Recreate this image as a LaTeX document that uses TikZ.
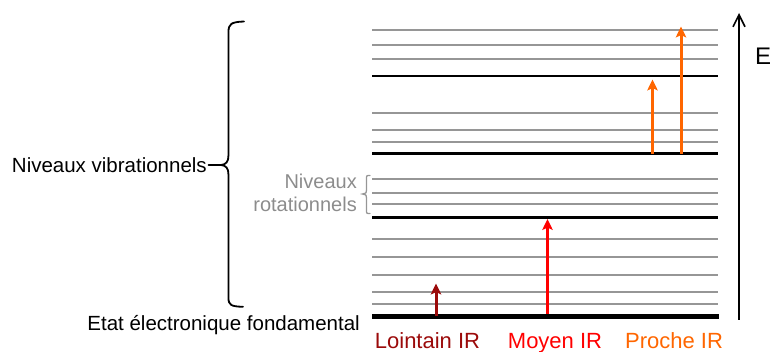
\documentclass[tikz,border=0pt]{standalone}
\usepackage{fontspec}
\setmainfont{Liberation Sans}
\usetikzlibrary{arrows.meta}
\definecolor{lvgray}{RGB}{150,150,150}
\definecolor{txtgray}{RGB}{140,140,140}
\definecolor{farir}{RGB}{155,10,10}
\definecolor{midir}{RGB}{255,0,0}
\definecolor{nearir}{RGB}{255,102,0}
\begin{document}
\begin{tikzpicture}[x=1pt,y=-1pt,
  graylevel/.style={draw=lvgray, line width=2pt},
  mainlevel/.style={draw=black, line width=2.8pt},
  groundlevel/.style={draw=black, line width=4.4pt},
  transition/.style={line width=3pt, -{Stealth[length=11pt,width=10.5pt,inset=2.5pt]}},
  lbl/.style={font=\fontsize{20.5}{24}\selectfont, inner sep=0pt},
  graylbl/.style={font=\fontsize{20}{23}\selectfont, inner sep=0pt, text=txtgray},
  irlbl/.style={font=\fontsize{22}{26}\selectfont, inner sep=0pt},
  bracestyle/.style={line width=1.8pt, line cap=round, line join=round}]
\useasboundingbox (0,0) rectangle (772,352);

% energy levels
\foreach \y in {30,44.7,59,112.7,129.7,142,178.7,192.7,203.7,239,257,275,291.7,303.7}
  \draw[graylevel] (372,\y) -- (718,\y);
\foreach \y in {76,153.7,217.7}
  \draw[mainlevel] (372,\y) -- (718,\y);
\draw[groundlevel] (372,316.7) -- (719,316.7);

% transitions
\coordinate (farS) at (436,316);
\coordinate (farE) at (436,283.5);
\coordinate (midS) at (547.5,314);
\coordinate (midE) at (547.5,219);
\coordinate (nearAS) at (652.5,153.7);
\coordinate (nearAE) at (652.5,79.5);
\coordinate (nearBS) at (681,153.7);
\coordinate (nearBE) at (681,26.5);
\draw[transition, farir] (farS) -- (farE);
\draw[transition, midir] (midS) -- (midE);
\draw[transition, nearir] (nearAS) -- (nearAE);
\draw[transition, nearir] (nearBS) -- (nearBE);

% energy axis
\coordinate (axS) at (739,320);
\coordinate (axE) at (739,13);
\draw[line width=1.6pt, -{Straight Barb[length=12pt,width=12pt,line width=1.6pt]}] (axS) -- (axE);
\node[font=\fontsize{24}{28}\selectfont, inner sep=0pt, anchor=base] (E) at (763,65) {E};

% IR labels
\node[irlbl, farir, anchor=base] (farL) at (427.5,348.3) {Lointain IR};
\node[irlbl, midir, anchor=base] (midL) at (555,348.3) {Moyen IR};
\node[irlbl, nearir, anchor=base] (nearL) at (674,348.3) {Proche IR};

% left labels
\node[lbl, anchor=east] (vib) at (207,165) {Niveaux vibrationnels};
\node[lbl, anchor=base east] (etat) at (360,330.5) {Etat électronique fondamental};
\coordinate (bigtip) at (221,165);
\draw[bracestyle] ([xshift=1.5pt]vib.east) -- (bigtip);
\draw[bracestyle] (244,21.5) .. controls (231,22) and (228.5,24) .. (228.5,32)
  -- (228.5,155) .. controls (228.5,162) and (226,164.5) .. (bigtip)
  .. controls (226,165.5) and (228.5,168) .. (228.5,175)
  -- (228.5,298) .. controls (228.5,305) and (231,306.5) .. (243,306.8);

% rotational label
\node[graylbl, anchor=base east] (rot1) at (357,189) {Niveaux};
\node[graylbl, anchor=base east] (rot2) at (357,212) {rotationnels};
\coordinate (smalltip) at (362.5,194);
\draw[line width=1.3pt, draw=lvgray, line cap=round] (370,175.5) .. controls (366.5,175.5) .. (366.5,179)
  -- (366.5,190) .. controls (366.5,193) .. (smalltip)
  .. controls (366.5,195) .. (366.5,198)
  -- (366.5,210) .. controls (366.5,213.5) .. (370,213.5);
\end{tikzpicture}
\end{document}
